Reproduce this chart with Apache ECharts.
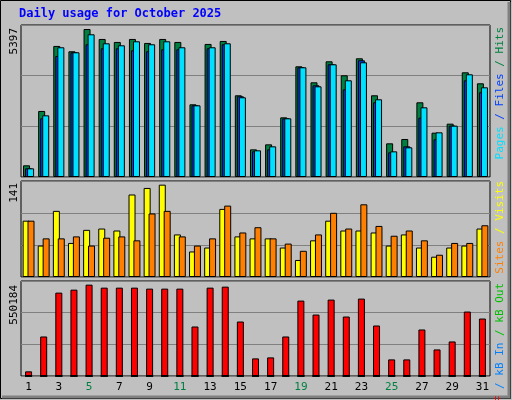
<!DOCTYPE html>
<html><head><meta charset="utf-8">
<script src="https://cdn.jsdelivr.net/npm/echarts@6/dist/echarts.min.js"></script>
<style>html,body{margin:0;padding:0;background:#c0c0c0}#c{width:512px;height:400px}</style>
</head><body><div id="c"></div>
<script>
const days = ['1','2','3','4','5','6','7','8','9','10','11','12','13','14','15','16','17','18','19','20','21','22','23','24','25','26','27','28','29','30','31'];
const weekend = ['4','5','11','12','18','19','25','26'];
const hits  = [426,2408,4779,4585,5397,5034,4925,5034,4888,5034,4925,2651,4852,4961,2980,1008,1191,2176,4037,3453,4219,3709,4329,2980,1228,1386,2724,1617,1945,3818,3417];
const files = [316,2140,4414,4548,4840,4694,4694,4621,4585,4658,4658,2614,4694,4840,2943,936,1008,2140,4001,3344,4110,3197,4256,2724,899,1118,2164,1374,1872,3526,3088];
const pages = [316,2249,4731,4548,5204,4876,4803,4949,4840,4949,4731,2614,4731,4876,2907,973,1118,2140,4001,3307,4110,3527,4183,2834,936,1082,2541,1629,1872,3745,3271];
const visits = [86,48,101,52,72,74,71,126,136,141,65,39,45,104,62,59,59,45,26,56,86,71,71,68,48,65,45,31,45,48,74];
const sites  = [86,59,59,62,48,60,62,56,97,101,62,48,59,109,68,76,59,51,40,65,98,74,111,78,63,71,56,34,52,52,79];
const kbf = [28014,238080,502140,520146,550184,532177,532177,532177,526175,526175,526175,298104,532177,538179,328114,106037,112039,238080,454153,370126,460155,358123,466157,304106,100035,100035,280098,160056,208070,388132,346118];
const kbin = kbf.map(()=>0), kbout = kbf.map(()=>0);
const maxLabels = ['5397','141','550184'];

const M1=5543, M2=146.6, M3=572191;
const chart = echarts.init(document.getElementById('c'));
const mono = 'DejaVu Sans Mono';
const grids = [
  {left:21,width:469,top:25,height:152},
  {left:21,width:469,top:181,height:96},
  {left:21,width:469,top:281,height:95}
].map(g=>Object.assign(g,{show:true,backgroundColor:'#c0c0c0',borderColor:'#000',borderWidth:1}));
function xa(i){return {type:'category',gridIndex:i,data:days,axisLine:{show:false},axisTick:{show:false},
  axisLabel:{show:i===2,fontFamily:mono,fontSize:11,margin:6,color:(v)=>weekend.includes(v)?'#008040':'#000'}};}
function ya(i,m){return {type:'value',gridIndex:i,min:0,max:m,interval:m/3,axisLabel:{show:false},axisLine:{show:false},axisTick:{show:false},
  splitLine:{lineStyle:{color:'#808080',width:1}}};}
const bs={borderColor:'#000',borderWidth:1};
function bar(name,data,xi,color,w,gap,z){return {name,type:'bar',xAxisIndex:xi,yAxisIndex:xi,data,barWidth:w,barGap:gap,z,
  itemStyle:Object.assign({color},bs),silent:true,animation:false};}
function vt(x,y,rich,text){return {type:'text',x,y,rotation:Math.PI/2,style:{text,rich,fontFamily:mono,fontSize:11,align:'right',verticalAlign:'middle'}};}
chart.setOption({
  animation:false,
  backgroundColor:'#c0c0c0',
  grid:grids,
  xAxis:[xa(0),xa(1),xa(2)],
  yAxis:[ya(0,M1),ya(1,M2),ya(2,M3)],
  series:[
    bar('Hits',hits,0,'#008040',7,'-71%',1),
    bar('Files',files,0,'#0040ff',7,'-71%',2),
    bar('Pages',pages,0,'#00e0ff',7,'-71%',3),
    bar('Visits',visits,1,'#ffff00',7,'-30%',1),
    bar('Sites',sites,1,'#ff8000',7,'-30%',2),
    bar('kB F',kbf,2,'#ff0000',7,'-100%',1),
    bar('kB In',kbin,2,'#0080ff',7,'-100%',2),
    bar('kB Out',kbout,2,'#00c000',7,'-100%',3)
  ],
  graphic:[
    {type:'rect',shape:{x:0.5,y:0.5,width:510,height:398},style:{fill:'none',stroke:'#000',lineWidth:1},z:-1},
    {type:'polyline',shape:{points:[[2,397],[509,397],[509,2]]},style:{stroke:'#808080',lineWidth:3,fill:'none'}},
    {type:'text',x:19,y:14,style:{text:'Daily usage for October 2025',fontFamily:mono,fontWeight:'bold',fontSize:12,fill:'#0000ff',verticalAlign:'middle'}},
    vt(14,28,{},maxLabels[0]),
    vt(14,183,{},maxLabels[1]),
    vt(14,285,{},maxLabels[2]),
    vt(500,27,{p:{fill:'#00e0ff'},f:{fill:'#0040ff'},h:{fill:'#008040'}},'{p|Pages}{f| / Files}{h| / Hits}'),
    vt(500,181,{s:{fill:'#ff8000'},v:{fill:'#ffff00'}},'{s|Sites}{v| / Visits}'),
    vt(500,283,{a:{fill:'#ff0000'},b:{fill:'#0080ff'},c:{fill:'#00c000'}},'{a|kB F}{b| / kB In}{c| / kB Out}')
  ]
});
</script></body></html>
